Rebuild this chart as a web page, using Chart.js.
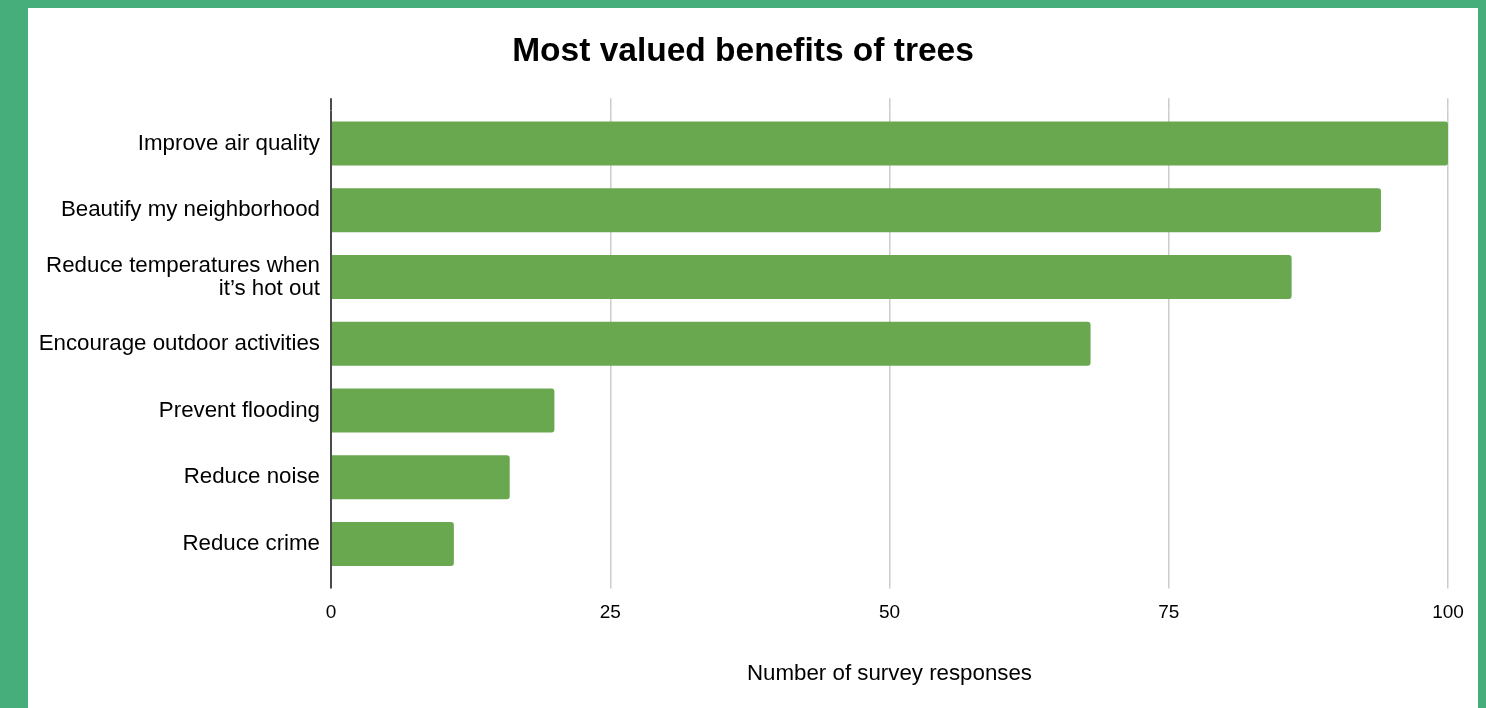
<!DOCTYPE html>
<html>
<head>
<meta charset="utf-8">
<script src="https://cdn.jsdelivr.net/npm/chart.js@4"></script>
<style>
  html, body { margin: 0; padding: 0; }
  body { background: #46ae7b; width: 1486px; height: 708px; overflow: hidden; position: relative; }
  #panel { position: absolute; left: 28px; top: 8px; width: 1450px; height: 700px; background: #ffffff; }
  #myChart { position: absolute; left: 0; top: 0; }
</style>
</head>
<body>
<div id="panel"><canvas id="myChart" width="1450" height="700"></canvas></div>
<script>
var categories = [
    "Improve air quality",
    "Beautify my neighborhood",
    ["Reduce temperatures when", "it\u2019s hot out"],
    "Encourage outdoor activities",
    "Prevent flooding",
    "Reduce noise",
    "Reduce crime"
];
var responses = [100, 94, 86, 68, 20, 16, 11];
var tickValues = [0, 25, 50, 75, 100];

var fontFamily = '"Liberation Sans", Arial, Helvetica, sans-serif';

function gridColor(ctx){
    return ctx.tick && ctx.tick.value === 0 ? "#4a4a4a" : "#cccccc";
}
function gridWidth(ctx){
    return ctx.tick && ctx.tick.value === 0 ? 2 : 1.5;
}

var canvas = document.getElementById("myChart");
var myChart = new Chart(canvas, {
    type: "bar",
    data: {
        labels: categories,
        datasets: [{
            label: "Number of survey responses",
            data: responses,
            backgroundColor: "#6aa84f",
            borderWidth: 0,
            borderRadius: 3,
            categoryPercentage: 1,
            barPercentage: 0.66
        }]
    },
    options: {
        responsive: false,
        animation: false,
        indexAxis: "y",
        layout: {
            padding: { left: 10, right: 30, top: 10, bottom: 21 }
        },
        plugins: {
            legend: { display: false },
            tooltip: { enabled: false },
            title: {
                display: true,
                text: "Most valued benefits of trees",
                color: "#000000",
                font: { family: fontFamily, size: 33.5, weight: "bold" },
                padding: { top: 14, bottom: 26 }
            }
        },
        scales: {
            x: {
                type: "linear",
                position: "bottom",
                min: 0,
                max: 100,
                afterBuildTicks: function(axis){
                    axis.ticks = tickValues.map(function(v){ return { value: v }; });
                },
                border: { display: false },
                grid: {
                    color: gridColor,
                    lineWidth: gridWidth,
                    tickLength: 11,
                    drawTicks: true
                },
                ticks: {
                    color: "#000000",
                    padding: 13,
                    font: { family: fontFamily, size: 19 }
                },
                title: {
                    display: true,
                    text: "Number of survey responses",
                    color: "#000000",
                    font: { family: fontFamily, size: 22.3 },
                    padding: { top: 23, bottom: 0 }
                }
            },
            x2: {
                type: "linear",
                position: "top",
                min: 0,
                max: 100,
                afterBuildTicks: function(axis){
                    axis.ticks = tickValues.map(function(v){ return { value: v }; });
                },
                border: { display: false },
                grid: {
                    color: gridColor,
                    lineWidth: gridWidth,
                    tickLength: 12,
                    drawTicks: true,
                    drawOnChartArea: false
                },
                ticks: { display: false }
            },
            y: {
                border: { display: false },
                grid: { display: false, drawTicks: false },
                afterFit: function(axis){
                    axis.width = 293;
                },
                ticks: {
                    color: "#000000",
                    padding: 11,
                    font: { family: fontFamily, size: 22.3, lineHeight: 1.05 }
                }
            }
        }
    }
});
</script>
</body>
</html>
